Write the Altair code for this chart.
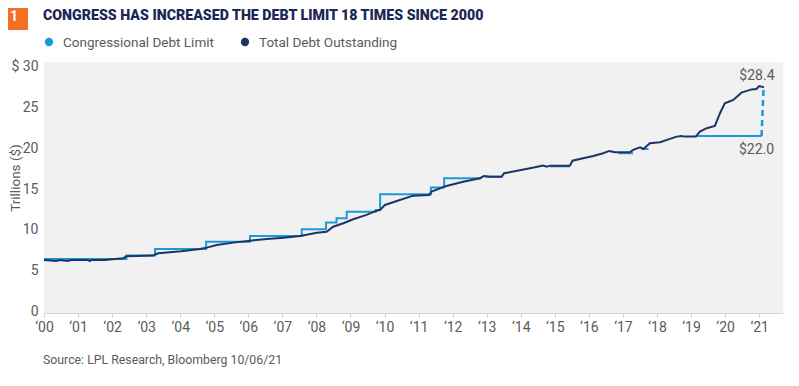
import altair as alt
import pandas as pd

# ---- data (x = fractional year, y = trillions $) ----
debt_years = [2000.0, 2000.36, 2000.46, 2000.70, 2000.80, 2001.29, 2001.34, 2001.39, 2001.78,
              2002.32, 2002.42, 2003.20, 2003.35, 2004.03, 2004.58, 2004.78, 2005.07, 2005.56,
              2006.05, 2006.54, 2007.03, 2007.52, 2008.01, 2008.30, 2008.49, 2008.79, 2009.08,
              2009.47, 2009.77, 2009.87, 2010.01, 2010.36, 2010.84, 2011.31, 2011.38, 2011.82,
              2012.31, 2012.80, 2012.92, 2013.09, 2013.44, 2013.51, 2013.78, 2014.27, 2014.66,
              2014.76, 2014.86, 2015.44, 2015.52, 2015.83, 2016.13, 2016.42, 2016.60, 2016.76,
              2017.20, 2017.30, 2017.50, 2017.60, 2017.79, 2018.09, 2018.38, 2018.58, 2018.72,
              2018.82, 2019.14, 2019.26, 2019.46, 2019.70, 2019.85, 2019.99, 2020.24, 2020.48,
              2020.78, 2020.92, 2021.00, 2021.14]
debt_values = [6.33, 6.20, 6.33, 6.20, 6.33, 6.33, 6.20, 6.33, 6.33,
               6.53, 6.78, 6.86, 7.14, 7.40, 7.67, 7.84, 8.16, 8.45,
               8.69, 8.90, 9.06, 9.27, 9.67, 9.79, 10.40, 10.82, 11.31,
               11.84, 12.36, 12.45, 13.06, 13.55, 14.20, 14.28, 14.69, 15.39,
               15.91, 16.33, 16.61, 16.52, 16.52, 16.94, 17.14, 17.55, 17.87,
               17.75, 17.87, 17.87, 18.48, 18.77, 19.06, 19.39, 19.67, 19.50,
               19.50, 19.79, 20.12, 19.91, 20.61, 20.73, 21.14, 21.42, 21.50,
               21.42, 21.42, 22.03, 22.45, 22.73, 24.28, 25.50, 25.90, 26.80,
               27.20, 27.25, 27.60, 27.47]

limit_years = [2000.0, 2002.42, 2003.26, 2004.76, 2006.05, 2007.57, 2008.28, 2008.59, 2008.89,
               2009.74, 2009.87, 2011.36, 2011.75, 2012.85,
               2012.95, 2013.44,
               2014.86, 2015.44,
               2016.86, 2017.30,
               2017.55, 2017.75,
               2019.14, 2021.07]
limit_values = [6.45, 6.86, 7.67, 8.57, 9.27, 10.08, 10.90, 11.43, 12.24,
                12.45, 14.37, 15.18, 16.33, 16.33,
                16.52, 16.52,
                17.78, 17.78,
                19.39, 19.39,
                19.91, 19.91,
                21.50, 21.50]
limit_segments = ["A"] * 14 + ["B"] * 2 + ["C"] * 2 + ["D"] * 2 + ["E"] * 2 + ["F"] * 2

gap_years = [2021.07, 2021.13]
gap_values = [21.50, 27.47]

annot_labels = ["$28.4", "$22.0"]
year_ticks = list(range(2000, 2022))
value_ticks = [0, 5, 10, 15, 20, 25, 30]

title_text = "CONGRESS HAS INCREASED THE DEBT LIMIT 18 TIMES SINCE 2000"
legend_labels = ["Congressional Debt Limit", "Total Debt Outstanding"]
source_text = "Source: LPL Research, Bloomberg  10/06/21"

LIGHT = "#1b9ad9"
NAVY = "#1c3564"
GRAY = "#5b5b5b"
FONT = "Roboto"

debt_df = pd.DataFrame({"year": debt_years, "value": debt_values})
limit_df = pd.DataFrame({"year": limit_years, "value": limit_values, "seg": limit_segments})
gap_df = pd.DataFrame({"year": gap_years, "value": gap_values})
annot_df = pd.DataFrame({
    "year": [debt_years[-1], limit_years[-1]],
    "value": [debt_values[-1], limit_values[-1]],
    "label": annot_labels,
})
one = pd.DataFrame({"k": [0]})

x_scale = alt.Scale(domain=[2000, 2021.7], nice=False, zero=False)
y_scale = alt.Scale(domain=[-0.16, 30.55], nice=False, zero=False)

x_enc = alt.X("year:Q", scale=x_scale, axis=alt.Axis(
    values=year_ticks, title=None, grid=False,
    labelExpr="'\u2018' + substring(format(datum.value, 'd'), 2, 4)",
    labelFont=FONT, labelFontSize=14, labelColor=GRAY, labelPadding=3,
    domainColor="#d6d6d6", tickColor="#cccccc", tickSize=4, labelFlush=False,
))
y_enc = alt.Y("value:Q", scale=y_scale, axis=alt.Axis(
    values=value_ticks, title=None, grid=False, domain=False, ticks=False,
    labelExpr="datum.value == 30 ? '$ 30' : datum.label",
    labelFont=FONT, labelFontSize=14, labelColor=GRAY, labelPadding=6,
))

limit_line = alt.Chart(limit_df).mark_line(
    color=LIGHT, strokeWidth=2, interpolate="step-after"
).encode(x=x_enc, y=y_enc, detail="seg:N")

gap_line = alt.Chart(gap_df).mark_line(
    color=LIGHT, strokeWidth=2.5, strokeDash=[6, 4]
).encode(x=x_enc, y=y_enc)

debt_line = alt.Chart(debt_df).mark_line(
    color=NAVY, strokeWidth=2
).encode(x=x_enc, y=y_enc)

annot_top = alt.Chart(annot_df.iloc[[0]]).mark_text(
    font=FONT, fontSize=14, color=GRAY, dx=-7, dy=-11
).encode(x=x_enc, y=y_enc, text="label:N")
annot_bot = alt.Chart(annot_df.iloc[[1]]).mark_text(
    font=FONT, fontSize=14, color=GRAY, dx=-5, dy=14
).encode(x=x_enc, y=y_enc, text="label:N")

# ---- header, legend, footer ----
badge = alt.Chart(one).mark_rect(color="#f36f21").encode(
    x=alt.value(-44), x2=alt.value(-16), y=alt.value(-57), y2=alt.value(-32))
badge_txt = alt.Chart(one).mark_text(
    font=FONT, fontSize=14, fontWeight="bold", color="white", baseline="middle"
).encode(x=alt.value(-30), y=alt.value(-45), text=alt.value("1"))
title = alt.Chart(one).mark_text(
    font=FONT, fontSize=14.2, fontWeight=900, color="#1b2757", align="left", baseline="alphabetic"
).encode(x=alt.value(-1), y=alt.value(-42.5), text=alt.value(title_text))

leg_dot1 = alt.Chart(one).mark_circle(color=LIGHT, size=70, opacity=1).encode(
    x=alt.value(5), y=alt.value(-20))
leg_dot2 = alt.Chart(one).mark_circle(color=NAVY, size=70, opacity=1).encode(
    x=alt.value(201), y=alt.value(-20))
leg_txt1 = alt.Chart(one).mark_text(
    font=FONT, fontSize=13.5, color=GRAY, align="left", baseline="middle"
).encode(x=alt.value(19), y=alt.value(-19), text=alt.value(legend_labels[0]))
leg_txt2 = alt.Chart(one).mark_text(
    font=FONT, fontSize=13.5, color=GRAY, align="left", baseline="middle"
).encode(x=alt.value(215), y=alt.value(-19), text=alt.value(legend_labels[1]))

y_title = alt.Chart(one).mark_text(
    font=FONT, fontSize=13.5, color=GRAY, angle=270, baseline="middle"
).encode(x=alt.value(-28), y=alt.value(116), text=alt.value("Trillions ($)"))
source = alt.Chart(one).mark_text(
    font=FONT, fontSize=12.3, color=GRAY, align="left", baseline="middle"
).encode(x=alt.value(-1), y=alt.value(298), text=alt.value(source_text))

chart = alt.layer(
    limit_line, gap_line, debt_line, annot_top, annot_bot,
    badge, badge_txt, title, leg_dot1, leg_dot2, leg_txt1, leg_txt2, y_title, source
).properties(
    width=739, height=251,
    autosize=alt.AutoSizeParams(type="none"),
    padding={"left": 36, "top": 54, "right": 8, "bottom": 60},
    background="white",
).configure_view(fill="#f1f1f1", stroke=None)

chart.save("out.html", embed_options={"renderer": "svg", "actions": False})
